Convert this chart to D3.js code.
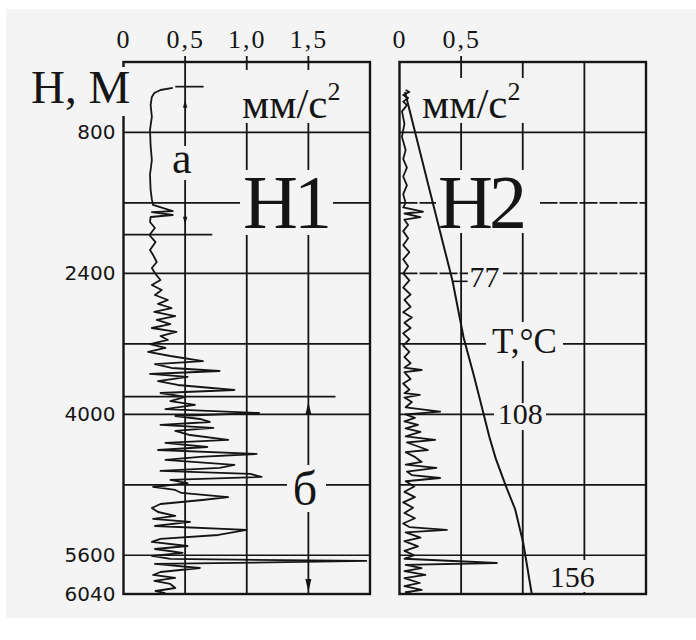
<!DOCTYPE html>
<html>
<head>
<meta charset="utf-8">
<script src="https://cdn.jsdelivr.net/npm/d3@7"></script>
<style>
  body { margin: 0; background: #fff; }
  svg { display: block; }
</style>
</head>
<body>
<svg id="chart" width="696" height="640"></svg>
<script>
// Depth axis (m) and grid
const depthTicks = [800, 2400, 4000, 5600, 6040];
const gridDepths = [800, 1600, 2400, 3200, 4000, 4800, 5600];
// Acceleration axis (mm/s^2)
const accelTicksH1 = [0, 0.5, 1.0, 1.5];
const accelTicksH2 = [0, 0.5];
const accelGrid = [0.5, 1.0, 1.5];

// Well Н1: [depth m, acceleration mm/s^2]
const h1Trace = [
  [295, 0.40], [318, 0.30], [352, 0.25], [397, 0.23], [488, 0.22], [620, 0.23],
  [772, 0.215], [950, 0.22], [1113, 0.23], [1280, 0.215], [1453, 0.22], [1560, 0.23],
  [1623, 0.24], [1692, 0.40], [1705, 0.23], [1737, 0.40], [1760, 0.22], [1816, 0.215],
  [1885, 0.255], [1964, 0.21], [2044, 0.26], [2134, 0.215], [2191, 0.24], [2271, 0.27],
  [2339, 0.23], [2407, 0.26], [2475, 0.30], [2532, 0.23], [2588, 0.31], [2645, 0.255],
  [2702, 0.36], [2747, 0.28], [2793, 0.39], [2838, 0.25], [2884, 0.42], [2929, 0.27],
  [2975, 0.38], [3020, 0.23], [3065, 0.43], [3111, 0.30], [3156, 0.36], [3202, 0.215],
  [3247, 0.34], [3292, 0.20], [3338, 0.38], [3395, 0.645], [3429, 0.255], [3474, 0.39],
  [3508, 0.78], [3542, 0.215], [3576, 0.52], [3622, 0.28], [3667, 0.44], [3724, 0.90],
  [3758, 0.30], [3803, 0.50], [3849, 0.38], [3894, 0.58], [3940, 0.34], [3985, 1.10],
  [4019, 0.42], [4053, 0.62], [4087, 0.70], [4121, 0.30], [4155, 0.73], [4189, 0.42],
  [4235, 0.54], [4291, 0.85], [4325, 0.34], [4371, 0.68], [4405, 0.28], [4450, 1.08],
  [4484, 0.62], [4518, 0.34], [4575, 0.90], [4609, 0.78], [4643, 0.30], [4677, 1.03],
  [4711, 1.12], [4745, 0.38], [4780, 0.52], [4825, 0.24], [4859, 0.42], [4893, 0.47],
  [4939, 0.85], [4973, 0.64], [5018, 0.30], [5063, 0.23], [5109, 0.28], [5154, 0.42],
  [5188, 0.24], [5222, 0.54], [5268, 0.255], [5313, 1.00], [5370, 0.77], [5415, 0.30],
  [5449, 0.23], [5495, 0.52], [5529, 0.255], [5574, 0.48], [5608, 0.23], [5642, 0.38],
  [5665, 1.97], [5699, 0.255], [5745, 0.62], [5790, 0.30], [5824, 0.24], [5858, 0.42],
  [5892, 0.25], [5926, 0.38], [5972, 0.42], [6006, 0.26], [6030, 0.34]
];

// Well Н2: [depth m, acceleration mm/s^2]
const h2Trace = [
  [318, 0.05], [340, 0.08], [375, 0.03], [410, 0.07], [450, 0.03], [490, 0.06],
  [560, 0.02], [700, 0.04], [850, 0.02], [1000, 0.05], [1100, 0.03], [1200, 0.06],
  [1300, 0.03], [1400, 0.06], [1500, 0.03], [1600, 0.05], [1650, 0.03], [1700, 0.19],
  [1720, 0.04], [1760, 0.17], [1790, 0.04], [1850, 0.07], [1920, 0.03], [2000, 0.07],
  [2080, 0.03], [2160, 0.08], [2240, 0.03], [2320, 0.07], [2400, 0.03], [2480, 0.08],
  [2560, 0.03], [2640, 0.09], [2700, 0.04], [2780, 0.09], [2840, 0.03], [2900, 0.10],
  [2960, 0.04], [3020, 0.09], [3080, 0.03], [3150, 0.08], [3220, 0.03], [3290, 0.08],
  [3350, 0.04], [3420, 0.09], [3470, 0.04], [3497, 0.18], [3520, 0.04], [3600, 0.09],
  [3650, 0.03], [3720, 0.08], [3760, 0.04], [3780, 0.165], [3810, 0.04], [3860, 0.10],
  [3920, 0.05], [3970, 0.33], [4000, 0.05], [4040, 0.125], [4080, 0.04], [4120, 0.15],
  [4160, 0.05], [4200, 0.17], [4250, 0.05], [4291, 0.29], [4320, 0.06], [4360, 0.14],
  [4405, 0.23], [4430, 0.05], [4480, 0.12], [4541, 0.18], [4570, 0.05], [4609, 0.30],
  [4650, 0.06], [4690, 0.10], [4723, 0.33], [4760, 0.05], [4820, 0.12], [4880, 0.04],
  [4940, 0.125], [5000, 0.03], [5060, 0.11], [5120, 0.04], [5180, 0.125], [5240, 0.03],
  [5280, 0.08], [5313, 0.385], [5340, 0.05], [5400, 0.17], [5440, 0.04], [5500, 0.15],
  [5550, 0.04], [5600, 0.12], [5640, 0.04], [5688, 0.79], [5710, 0.05], [5745, 0.18],
  [5780, 0.04], [5824, 0.21], [5860, 0.04], [5915, 0.165], [5950, 0.04], [5994, 0.18],
  [6020, 0.05], [6035, 0.10]
];

// Temperature profile in Н2: [depth m, T °C]
const tempProfile = [
  [340, 29.5], [1340, 51.5], [2490, 77], [3130, 88], [3550, 98], [4000, 108],
  [4250, 113.5], [4500, 120], [4810, 130], [5080, 139.5], [5460, 147.5], [6040, 156]
];
const tempLabels = [77, 108, 156];

// Depth intervals marked with arrows in Н1
const zones = [
  { name: "а", top: 280, bottom: 1960 },
  { name: "б", top: 3800, bottom: 6040 }
];

const ink = "#151515";
const serif = "'Liberation Serif', 'Times New Roman', serif";
const sans = "'DejaVu Sans', Verdana, sans-serif";
const paper = "#f4f4f4";

const svg = d3.select("#chart");
svg.append("rect").attr("width", 696).attr("height", 640).attr("fill", "#fff");
svg.append("rect").attr("x", 6).attr("y", 9).attr("width", 690).attr("height", 609).attr("fill", paper);

const y = d3.scaleLinear().domain([0, 6040]).range([62, 594]);
const panels = [
  { name: "Н1", x: d3.scaleLinear().domain([0, 2]).range([123.5, 370]), ticks: accelTicksH1, trace: h1Trace, dashed: [] },
  { name: "Н2", x: d3.scaleLinear().domain([0, 2]).range([399.5, 646]), ticks: accelTicksH2, trace: h2Trace, dashed: [1600, 2400] }
];
const tScale = d3.scaleLinear().domain([24, 270]).range([399.5, 646]);

// Grid and frames
panels.forEach(p => {
  const [x0, x1] = p.x.range();
  const g = svg.append("g");
  g.selectAll("line.h").data(gridDepths).join("line")
    .attr("x1", x0).attr("x2", x1)
    .attr("y1", d => y(d)).attr("y2", d => y(d))
    .attr("stroke", ink).attr("stroke-width", 1.7)
    .attr("stroke-dasharray", d => p.dashed.includes(d) ? "18,2" : null);
  g.selectAll("line.v").data(accelGrid).join("line")
    .attr("x1", d => p.x(d)).attr("x2", d => p.x(d))
    .attr("y1", d => p.ticks.includes(d) ? y(0) - 6 : y(0))
    .attr("y2", y(6040))
    .attr("stroke", ink).attr("stroke-width", 1.8);
  g.append("rect")
    .attr("x", x0).attr("y", y(0))
    .attr("width", x1 - x0).attr("height", y(6040) - y(0))
    .attr("fill", "none").attr("stroke", ink).attr("stroke-width", 2.4);
});

// Clear space behind the labels that sit on the grid
const gaps = [
  [28, 67, 135, 116],   // Н, М
  [238, 70, 362, 123],  // мм/с² (Н1)
  [170, 146, 200, 180], // а
  [240, 170, 333, 235], // Н1
  [287, 465, 326, 512], // б
  [418, 78, 548, 123],  // мм/с² (Н2)
  [436, 170, 540, 233], // Н2
  [468, 265, 503, 292], // 77
  [486, 322, 563, 361], // T,°C
  [494, 403, 546, 430], // 108
  [546, 560, 600, 592]  // 156
];
svg.append("g").selectAll("rect").data(gaps).join("rect")
  .attr("x", d => d[0]).attr("y", d => d[1])
  .attr("width", d => d[2] - d[0]).attr("height", d => d[3] - d[1])
  .attr("fill", paper);

// Axes
const fmt = d => d === 0 ? "0" : d3.format(".1f")(d).replace(".", ",");
panels.forEach(p => {
  svg.append("g")
    .attr("transform", `translate(0,${y(0)})`)
    .call(d3.axisTop(p.x).tickValues(p.ticks).tickSize(0).tickPadding(14).tickFormat(fmt))
    .call(g => g.select(".domain").remove())
    .selectAll("text")
    .attr("font-family", serif).attr("font-size", 26)
    .attr("letter-spacing", 2).attr("fill", ink);
});
svg.append("g")
  .attr("transform", `translate(${panels[0].x(0)},0)`)
  .call(d3.axisLeft(y).tickValues(depthTicks).tickSize(0).tickPadding(8).tickFormat(d3.format("d")))
  .call(g => g.select(".domain").remove())
  .selectAll("text")
  .attr("font-family", sans).attr("font-size", 20).attr("fill", ink);

// Acceleration traces
panels.forEach(p => {
  svg.append("path")
    .datum(p.trace)
    .attr("fill", "none").attr("stroke", ink).attr("stroke-width", 1.8)
    .attr("stroke-linejoin", "round")
    .attr("d", d3.line().x(d => p.x(d[1])).y(d => y(d[0])));
});

// Temperature curve
svg.append("path")
  .datum(tempProfile)
  .attr("fill", "none").attr("stroke", ink).attr("stroke-width", 2)
  .attr("d", d3.line().x(d => tScale(d[1])).y(d => y(d[0])));

const tempPlace = {
  77: { dx: 17, dy: 6, leader: 15 },
  108: { dx: 14, dy: 10, leader: 0 },
  156: { dx: 18, dy: -7, leader: 0 }
};
tempLabels.forEach(t => {
  const pt = tempProfile.find(d => d[1] === t);
  const px = tScale(t), py = y(pt[0]);
  const o = tempPlace[t];
  if (o.leader) {
    svg.append("line").attr("x1", px).attr("x2", px + o.leader)
      .attr("y1", py).attr("y2", py).attr("stroke", ink).attr("stroke-width", 1.6);
  }
  svg.append("text").attr("x", px + o.dx).attr("y", py + o.dy)
    .attr("font-family", serif).attr("font-size", 30).attr("fill", ink)
    .text(t);
});

// Interval arrows in Н1
const x1s = panels[0].x;
const arrowHead = (cx, tipY, dir, w, h) =>
  `M${cx},${tipY} L${cx - w},${tipY - dir * h} L${cx + w},${tipY - dir * h} Z`;
const zoneStyle = [
  { x: 0.5, capTop: [0.42, 0.65], capBottom: [0, 0.72], inTop: 13, inBottom: 10, w: 2.2, h: 8 },
  { x: 1.5, capTop: [0, 1.72], capBottom: null, inTop: 5, inBottom: 2, w: 3, h: 13 }
];
zones.forEach((z, i) => {
  const s = zoneStyle[i];
  const cx = x1s(s.x);
  svg.append("line").attr("x1", x1s(s.capTop[0])).attr("x2", x1s(s.capTop[1]))
    .attr("y1", y(z.top)).attr("y2", y(z.top)).attr("stroke", ink).attr("stroke-width", 1.7);
  if (s.capBottom) {
    svg.append("line").attr("x1", x1s(s.capBottom[0])).attr("x2", x1s(s.capBottom[1]))
      .attr("y1", y(z.bottom)).attr("y2", y(z.bottom)).attr("stroke", ink).attr("stroke-width", 1.7);
  }
  svg.append("path").attr("d", arrowHead(cx, y(z.top) + s.inTop, -1, s.w, s.h)).attr("fill", ink);
  svg.append("path").attr("d", arrowHead(cx, y(z.bottom) - s.inBottom, 1, s.w, s.h)).attr("fill", ink);
});

// Text labels
const txt = (x, yy, size, opts = {}) => {
  const t = svg.append("text").attr("x", x).attr("y", yy)
    .attr("font-family", opts.family || serif).attr("font-size", size)
    .attr("fill", ink).attr("text-anchor", opts.anchor || "start");
  if (opts.ls) t.attr("letter-spacing", opts.ls);
  return t;
};
txt(31, 103, 47).text("Н, М");
[242, 422].forEach(x => {
  const t = txt(x, 118, 43);
  t.append("tspan").text("мм/с");
  t.append("tspan").attr("dy", -18).attr("font-size", 26).text("2");
});
txt(243, 228, 76, { ls: -4 }).text(panels[0].name);
txt(438, 228, 76, { ls: -4 }).text(panels[1].name);
txt(172, 173, 44).text(zones[0].name);
txt(305, 505, 48, { anchor: "middle" }).text(zones[1].name);
txt(524.5, 353, 35, { anchor: "middle" }).text("T,°C");
</script>
</body>
</html>
